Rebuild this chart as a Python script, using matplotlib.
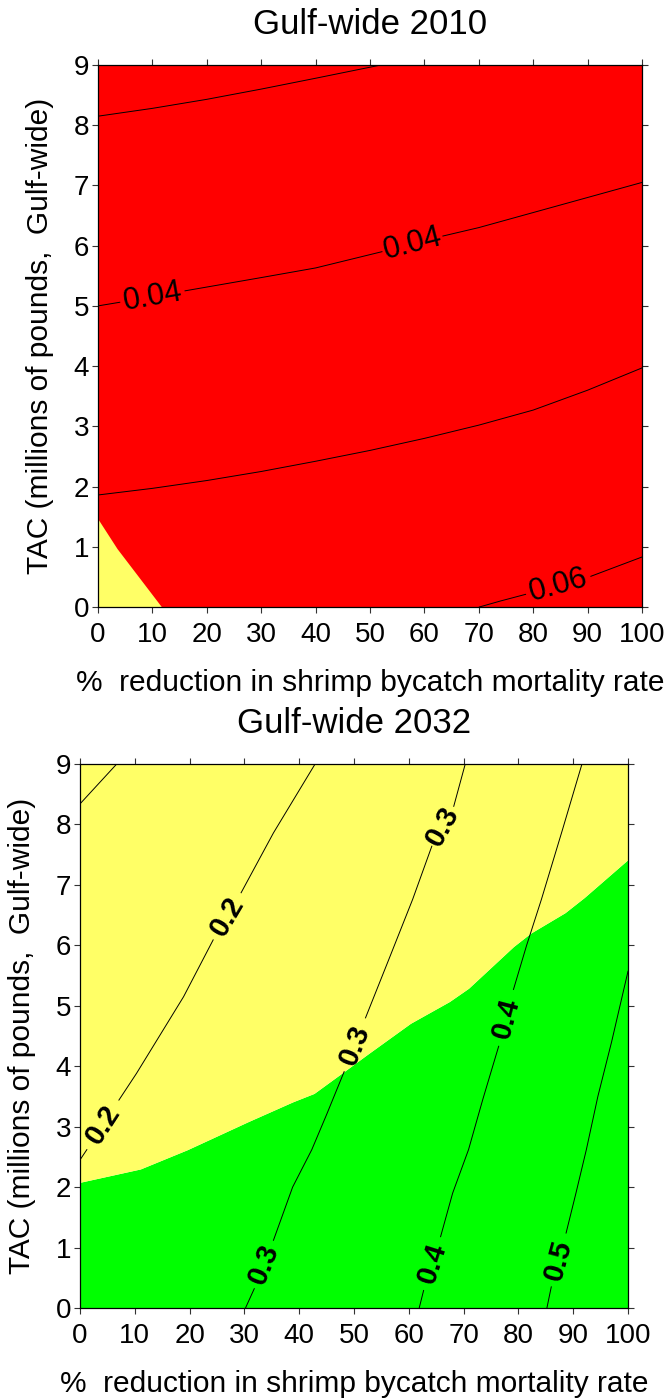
import numpy as np
import matplotlib
matplotlib.use("Agg")
import matplotlib.pyplot as plt

nan = np.nan

# axis ticks
pct_ticks = [0, 10, 20, 30, 40, 50, 60, 70, 80, 90, 100]
tac_ticks = [0, 1, 2, 3, 4, 5, 6, 7, 8, 9]

# ---- Gulf-wide 2010 ----
# yellow corner (below this edge)
yel2010_x = [0, 3.5, 11.7]
yel2010_y = [1.46, 0.97, 0.0]

# contour lines, nan = gap where a label sits
c2010_top_x = [0, 10, 20, 30, 40, 52]
c2010_top_y = [8.15, 8.28, 8.43, 8.60, 8.78, 9.0]
c2010_004_x = [0, 4, nan, 16, 30, 40, 52.2, nan, 63.4, 70, 80, 90, 100]
c2010_004_y = [5.0, 5.06, nan, 5.25, 5.47, 5.63, 5.90, nan, 6.16, 6.30, 6.55, 6.80, 7.05]
c2010_mid_x = [0, 10, 20, 30, 40, 50, 60, 70, 80, 90, 100]
c2010_mid_y = [1.86, 1.97, 2.10, 2.25, 2.42, 2.60, 2.80, 3.02, 3.27, 3.60, 3.97]
c2010_006_x = [70.1, 74, 78.6, nan, 90.6, 95, 100]
c2010_006_y = [0.0, 0.1, 0.21, nan, 0.51, 0.66, 0.83]

# ---- Gulf-wide 2032 ----
# green below this edge, yellow above
edge2032_x = [0, 11, 19.6, 30.6, 38.8, 42.7, 48.6, 52.5, 60.3, 67.4, 70.9, 79.1, 82.2, 88.5, 92, 100]
edge2032_y = [2.08, 2.30, 2.62, 3.08, 3.41, 3.55, 3.94, 4.20, 4.71, 5.07, 5.29, 5.98, 6.20, 6.54, 6.79, 7.42]

c2032_top_x = [0, 6.7]
c2032_top_y = [8.34, 9.0]
c2032_02_x = [0, 1.25, nan, 7.1, 10.3, 14.5, 18.9, 24.3, nan, 29.4, 35.3, 42.9]
c2032_02_y = [2.45, 2.62, nan, 3.44, 3.88, 4.50, 5.15, 6.09, nan, 6.87, 7.86, 9.0]
c2032_03_x = [30.2, 31.8, nan, 35.3, 38.8, 42.3, 45.0, 48.2, nan, 52.1, 56.5, 60.7, 64.2, nan, 68.2, 70.3]
c2032_03_y = [0.0, 0.32, nan, 1.12, 2.0, 2.62, 3.2, 3.91, nan, 4.80, 5.80, 6.76, 7.64, nan, 8.30, 9.0]
c2032_04_x = [61.9, 62.7, nan, 65.8, 68.0, 70.9, 73.5, 76.4, nan, 79.1, 81.5, 84.2, 88.0, 91.6]
c2032_04_y = [0.0, 0.29, nan, 1.18, 1.90, 2.62, 3.45, 4.33, nan, 5.27, 6.00, 6.76, 7.90, 9.0]
c2032_05_x = [85.2, 86.0, nan, 88.7, 90.5, 92.4, 94.5, 97.0, 100]
c2032_05_y = [0.0, 0.35, nan, 1.24, 1.90, 2.62, 3.50, 4.40, 5.57]

RED = "#ff0000"
YELLOW = "#ffff66"
GREEN = "#00ff00"

plt.rcParams['font.family'] = ['Liberation Sans', 'DejaVu Sans']


def setup_axes(ax, title):
    ax.set_xlim(0, 100)
    ax.set_ylim(0, 9)
    ax.set_xticks(pct_ticks)
    ax.set_yticks(tac_ticks)
    ax.tick_params(direction='out', length=4.5, width=0.8, color='#333333',
                   top=True, right=True, labelsize=20)
    ax.tick_params(axis='x', pad=6)
    ax.tick_params(axis='y', pad=2)
    for s in ax.spines.values():
        s.set_linewidth(0.9)
    ax.set_title(title, fontsize=25, pad=22)
    ax.set_xlabel('%  reduction in shrimp bycatch mortality rate', fontsize=21.5)
    ax.set_ylabel('TAC (millions of pounds,  Gulf-wide)', fontsize=21.5)
    ax.xaxis.set_label_coords(0.5, -0.114)
    ax.yaxis.set_label_coords(-0.080, 0.5)


def draw_contour(ax, xs, ys, label, **kw):
    xs = np.asarray(xs, dtype=float)
    ys = np.asarray(ys, dtype=float)
    ax.plot(xs, ys, color='black', lw=0.7)
    # put the label in each gap, turned along the line
    for i in np.where(np.isnan(xs))[0]:
        p0 = np.array([xs[i - 1], ys[i - 1]])
        p1 = np.array([xs[i + 1], ys[i + 1]])
        d0, d1 = ax.transData.transform([p0, p1])
        ang = np.degrees(np.arctan2(d1[1] - d0[1], d1[0] - d0[0]))
        mid = (p0 + p1) / 2
        ax.text(mid[0], mid[1], label, rotation=ang, rotation_mode='anchor',
                ha='center', va='center', **kw)


fig = plt.figure(figsize=(6.68, 13.99), dpi=100)

# top panel
ax1 = fig.add_axes([98 / 668, 792 / 1399, 544 / 668, 542 / 1399])
setup_axes(ax1, 'Gulf-wide 2010')
ax1.fill_between(pct_ticks, 0, 9, color=RED, lw=0)
ax1.fill_between(yel2010_x, 0, yel2010_y, color=YELLOW, lw=0)
draw_contour(ax1, c2010_top_x, c2010_top_y, '')
draw_contour(ax1, c2010_004_x, c2010_004_y, '0.04', fontsize=22)
draw_contour(ax1, c2010_mid_x, c2010_mid_y, '')
draw_contour(ax1, c2010_006_x, c2010_006_y, '0.06', fontsize=22)

# bottom panel
ax2 = fig.add_axes([80 / 668, 91 / 1399, 548 / 668, 544 / 1399])
setup_axes(ax2, 'Gulf-wide 2032')
ax2.fill_between(edge2032_x, 0, edge2032_y, color=GREEN, lw=0)
ax2.fill_between(edge2032_x, edge2032_y, 9, color=YELLOW, lw=0)
draw_contour(ax2, c2032_top_x, c2032_top_y, '')
for cx, cy, lab in [(c2032_02_x, c2032_02_y, '0.2'),
                    (c2032_03_x, c2032_03_y, '0.3'),
                    (c2032_04_x, c2032_04_y, '0.4'),
                    (c2032_05_x, c2032_05_y, '0.5')]:
    draw_contour(ax2, cx, cy, lab, fontsize=21, fontweight='bold')

fig.savefig('out.png', dpi=100)
